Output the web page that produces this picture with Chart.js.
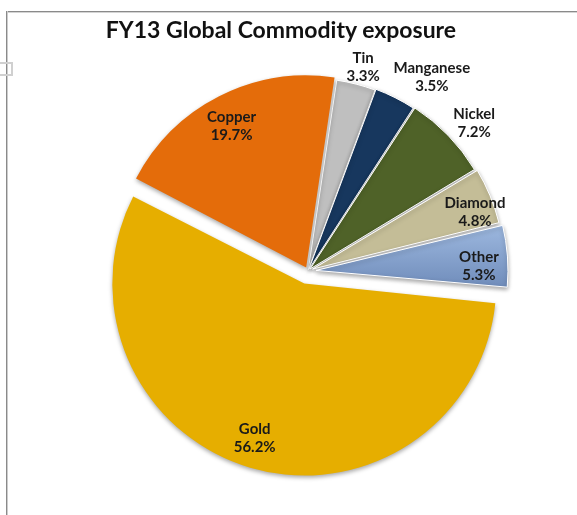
<!DOCTYPE html>
<html><head><meta charset="utf-8">
<script src="https://cdn.jsdelivr.net/npm/chart.js@4.4.1/dist/chart.umd.min.js"></script>
<style>
html,body{margin:0;padding:0;background:#fff;}
#wrap{position:relative;width:577px;height:515px;overflow:hidden;background:#fff;}
#frameTop{position:absolute;left:6px;top:11px;width:571px;height:0;border-top:1px solid #8a8a8a;border-bottom:1px solid #d4d4d4;}
#frameLeft{position:absolute;left:6px;top:11px;width:0;height:504px;border-left:1px solid #8a8a8a;border-right:1px solid #cccccc;}
#handle{position:absolute;left:-2px;top:62px;width:11px;height:10px;border:2px solid #d0d0d0;}
#title{position:absolute;left:0;top:15px;width:562px;text-align:center;font:bold 23px Lato, 'Open Sans', sans-serif;color:#111;}
canvas{position:absolute;left:0;top:0;}
</style></head><body>
<div id="wrap">
 <div id="frameTop"></div><div id="frameLeft"></div><div id="handle"></div>
 <canvas id="c" width="577" height="515"></canvas>
 <div id="title">FY13 Global Commodity exposure</div>
</div>
<script>
const categories = ['Tin', 'Manganese', 'Nickel', 'Diamond', 'Other', 'Gold', 'Copper'];
const shares = [3.3, 3.5, 7.2, 4.8, 5.3, 56.2, 19.7];
const valueLabels = shares.map(v => v.toFixed(1) + '%');

// style: explosion (px), separators and label placement
const sliceStyle = {
  colors: ['#BFBFBF', '#17375E', '#4F6228', '#C4BD97', null, '#E6AE00', '#E46C0A'],
  borders: [1, 1, 1, 1, 1, 0, 0],
  explode: [1, 2, 3, 5, 8, 13, 4],
  labelRadius: [1.093, 1.189, 1.143, 0.897, 0.849, 0.845, 0.834],
  labelTurn: [0.7, 5.9, 2.4, 3.0, 2.8, 1.4, -0.8]
};

// keep exploded slices at the same radius as the others
const baseDraw = Chart.ArcElement.prototype.draw;
Chart.ArcElement.prototype.draw = function (ctx) {
  const t = (this.options.offset || 0) / 4;
  const fix = 1 - Math.sin(Math.min(Math.PI, this.circumference || 0));
  const r = this.outerRadius;
  this.outerRadius = r - t * fix;
  baseDraw.call(this, ctx);
  this.outerRadius = r;
};

const shadowPlugin = {
  id: 'sliceShadow',
  beforeDatasetsDraw(chart) {
    const c = chart.ctx;
    c.save();
    c.shadowColor = 'rgba(0,0,0,0.35)';
    c.shadowBlur = 4;
    c.shadowOffsetX = 0;
    c.shadowOffsetY = 2;
  },
  afterDatasetsDraw(chart) { chart.ctx.restore(); }
};

const labelPlugin = {
  id: 'sliceLabels',
  afterDatasetsDraw(chart, args, opts) {
    const ctx = chart.ctx;
    const meta = chart.getDatasetMeta(0);
    ctx.save();
    ctx.font = opts.font;
    ctx.fillStyle = opts.color;
    ctx.textAlign = 'center';
    ctx.textBaseline = 'middle';
    meta.data.forEach((arc, i) => {
      const p = arc.getProps(['x', 'y', 'startAngle', 'endAngle', 'outerRadius'], true);
      const mid = (p.startAngle + p.endAngle) / 2;
      const t = sliceStyle.explode[i];
      const a = mid + sliceStyle.labelTurn[i] * Math.PI / 180;
      const r = p.outerRadius * sliceStyle.labelRadius[i];
      const cx = p.x + Math.cos(mid) * t + Math.cos(a) * r;
      const cy = p.y + Math.sin(mid) * t + Math.sin(a) * r;
      ctx.fillText(categories[i], cx, cy - opts.lineGap / 2);
      ctx.fillText(valueLabels[i], cx, cy + opts.lineGap / 2);
    });
    ctx.restore();
  }
};

function sliceColor(context) {
  const i = context.dataIndex;
  if (sliceStyle.colors[i]) return sliceStyle.colors[i];
  const chart = context.chart;
  const area = chart.chartArea;
  if (!area) return '#8AA6D3';
  const cy = (area.top + area.bottom) / 2;
  const g = chart.ctx.createLinearGradient(0, cy - 45, 0, cy + 25);
  g.addColorStop(0, '#9DB8DF');
  g.addColorStop(1, '#6A87B6');
  return g;
}

new Chart(document.getElementById('c'), {
  type: 'pie',
  data: {
    labels: categories,
    datasets: [{
      data: shares,
      backgroundColor: sliceColor,
      borderColor: '#ffffff',
      borderWidth: sliceStyle.borders,
      offset: sliceStyle.explode.map(t => t * 4)
    }]
  },
  options: {
    responsive: false,
    animation: false,
    devicePixelRatio: 1,
    events: [],
    rotation: 8.5,
    radius: 192,
    layout: { padding: { left: 39, right: 0, top: 27, bottom: 0 } },
    plugins: {
      legend: { display: false },
      tooltip: { enabled: false },
      title: { display: false },
      sliceLabels: { font: 'bold 15px Lato, "Open Sans", sans-serif', color: '#1a1a1a', lineGap: 18 }
    }
  },
  plugins: [shadowPlugin, labelPlugin]
});
</script>
</body></html>
